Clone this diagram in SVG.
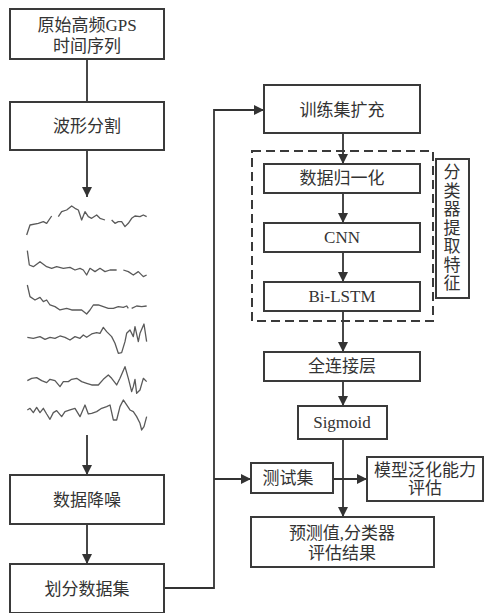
<svg xmlns="http://www.w3.org/2000/svg" width="484" height="613" viewBox="0 0 484 613">
<defs>
<marker id="ah" viewBox="0 0 10 10" refX="10" refY="5" markerWidth="10" markerHeight="10" markerUnits="userSpaceOnUse" orient="auto">
<path d="M0,0 L10,5 L0,10 z" fill="#333"/>
</marker>
<style>
.box{fill:#fff;stroke:#3a3a3a;stroke-width:2}
.t{font-family:"Liberation Serif","Noto Sans CJK SC",serif;font-size:17px;fill:#333;text-anchor:middle}
.c{fill:none;stroke:#333;stroke-width:1.8}
.a{marker-end:url(#ah)}
.w{fill:none;stroke:#5a5a5a;stroke-width:3.9;stroke-linejoin:round}
</style>
</defs>
<rect width="484" height="613" fill="#fff"/>
<g id="connectors">
<path class="c a" d="M87,59 V197"/>
<path class="c a" d="M87,435 V475"/>
<path class="c a" d="M87,524 V564"/>
<path class="c a" d="M164,588 H214 V110 H264"/>
<path class="c a" d="M214,479 H251"/>
<path class="c a" d="M343,133 V164"/>
<path class="c a" d="M343,193 V223"/>
<path class="c a" d="M343,252 V282"/>
<path class="c a" d="M343,311 V352"/>
<path class="c a" d="M343,381 V406"/>
<path class="c a" d="M343,439 V517"/>
<path class="c a" d="M333,479 H367"/>
</g>
<g id="n1"><rect class="box" x="10" y="9" width="154" height="50"/><text class="t" x="87" y="31">原始高频GPS</text><text class="t" x="87" y="52">时间序列</text></g>
<g id="n2"><rect class="box" x="10" y="102" width="154" height="48"/><text class="t" x="87" y="132">波形分割</text></g>
<g id="waves" transform="translate(0,190) scale(0.3333)">
<polyline class="w" points="80,135 90,105 115,100 130,95 140,100 155,78"/>
<polyline class="w" points="175,80 185,65 200,60 215,48 225,55 235,60 245,90 255,65 265,80 275,85 290,75 300,85 315,90"/>
<polyline class="w" points="335,90 345,100 355,95 365,95 375,110 385,100 395,85 405,78 420,80 430,75 440,80"/>
<polyline class="w" points="82,182 88,225 100,230 120,215 140,230 155,235 170,230 190,235 210,232 225,240 240,235 250,240 260,255 270,235 285,245 300,235 315,245 330,240 350,240"/>
<polyline class="w" points="370,240 385,245 400,255 415,245 430,260 440,255"/>
<polyline class="w" points="82,285 90,320 105,330 120,322 130,335 140,330 150,345 165,350 180,360 200,355 215,360 230,360 245,360 260,372 270,360 280,345 295,345 310,350 325,355 340,355 355,350 370,352 380,348 385,355"/>
<polyline class="w" points="395,355 410,348 425,350 440,348"/>
<polyline class="w" points="82,442 100,445 120,440 135,448 150,442 165,445 180,438 195,442 210,450 225,440 240,445 250,435 260,442 275,432 290,428 300,430 310,412 320,425 335,440 345,460 355,490 365,488 375,455 380,430 390,420 400,440 405,410 415,455 420,430 432,402 440,455"/>
<polyline class="w" points="82,572 95,565 110,563 125,572 140,578 150,568 165,572 180,590 190,575 205,575 215,568 230,565 245,575 260,580 275,585 295,585 310,568 325,555 335,565 350,585 360,565 375,530 385,565 395,605 400,590 405,568 410,610 420,600 430,565 440,575"/>
<polyline class="w" points="82,660 90,655 100,668 110,652 120,668 130,655 140,672 150,688 160,668 170,662 185,680 195,665 210,660 225,655 240,680 255,645 265,672 275,670 290,665 305,655 320,650 330,645 340,690 350,690 360,650 370,630 380,645 390,660 400,665 410,680 420,700 425,720 432,710 440,680"/>
</g>
<g id="n3"><rect class="box" x="10" y="475" width="154" height="49"/><text class="t" x="87" y="506">数据降噪</text></g>
<g id="n4"><rect class="box" x="10" y="564" width="154" height="49"/><text class="t" x="87" y="595">划分数据集</text></g>
<g id="n5"><rect class="box" x="264" y="85" width="156" height="48"/><text class="t" x="342" y="116">训练集扩充</text></g>
<g id="group"><rect x="252" y="151" width="181" height="170" fill="none" stroke="#3a3a3a" stroke-width="2" stroke-dasharray="9,5"/></g>
<g id="side"><rect class="box" x="436" y="159" width="33" height="139"/>
<text class="t" x="452"><tspan x="452" y="178">分</tspan><tspan x="452" y="196.5">类</tspan><tspan x="452" y="215">器</tspan><tspan x="452" y="233.5">提</tspan><tspan x="452" y="252">取</tspan><tspan x="452" y="270.5">特</tspan><tspan x="452" y="289">征</tspan></text></g>
<g id="n6"><rect class="box" x="264" y="164" width="156" height="29"/><text class="t" x="342" y="184">数据归一化</text></g>
<g id="n7"><rect class="box" x="264" y="223" width="156" height="29"/><text class="t" x="342" y="243">CNN</text></g>
<g id="n8"><rect class="box" x="264" y="282" width="156" height="29"/><text class="t" x="342" y="302">Bi-LSTM</text></g>
<g id="n9"><rect class="box" x="264" y="352" width="156" height="29"/><text class="t" x="342" y="372">全连接层</text></g>
<g id="n10"><rect class="box" x="298" y="406" width="89" height="33"/><text class="t" x="342" y="428">Sigmoid</text></g>
<g id="n11"><rect class="box" x="251" y="463" width="82" height="30"/><text class="t" x="288" y="484">测试集</text></g>
<g id="n12"><rect class="box" x="367" y="457" width="116" height="44"/><text class="t" x="425" y="476">模型泛化能力</text><text class="t" x="425" y="494">评估</text></g>
<g id="n13"><rect class="box" x="251" y="517" width="183" height="50"/><text class="t" x="342" y="539">预测值,分类器</text><text class="t" x="342" y="559">评估结果</text></g>
</svg>
